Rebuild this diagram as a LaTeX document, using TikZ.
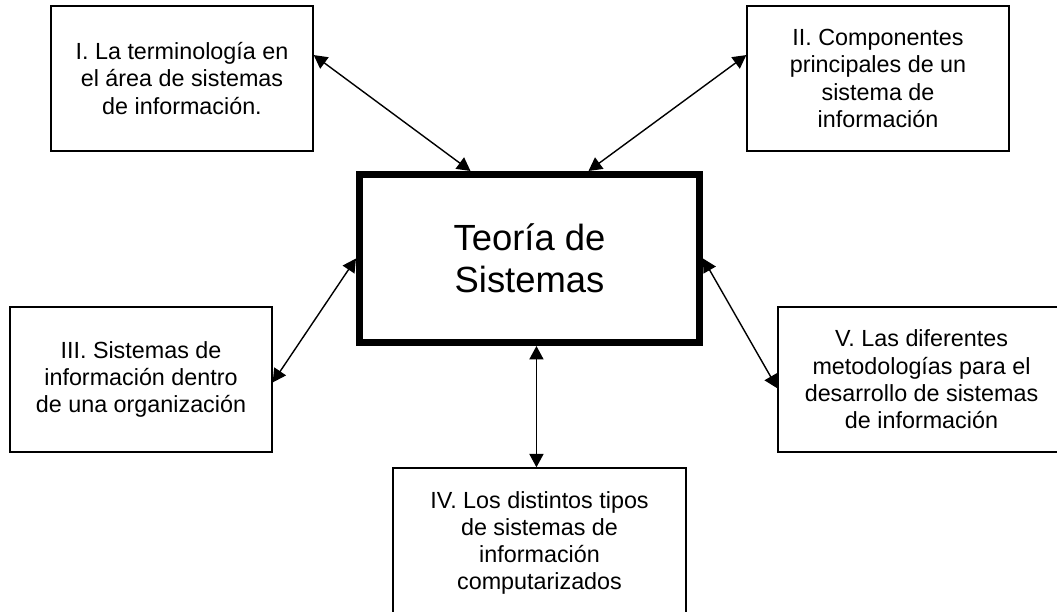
\documentclass[tikz,border=0pt]{standalone}
\usepackage{fontspec}
\setmainfont{Liberation Sans}
\usepackage{tikz}
\usetikzlibrary{arrows.meta, positioning, calc}

\begin{document}
\begin{tikzpicture}[
    topic/.style={draw, line width=1pt, fill=white, inner sep=0pt, minimum width=#1, minimum height=3.625cm, align=center, font=\fontsize{16.6pt}{19.4pt}\selectfont},
    topic/.default=6.55cm,
    core/.style={draw, line width=5pt, fill=white, inner sep=0pt, minimum width=8.5cm, minimum height=4.2cm, align=center, font=\fontsize{25.9pt}{29.8pt}\selectfont},
    link/.style={{Triangle[length=9.5pt,width=10pt]}-{Triangle[length=9.5pt,width=10pt]}, line width=1pt},
]
    \clip (0,0) rectangle (26.425,-15.275);
    \fill[white] (0,0) rectangle (26.425,-15.275);

    \node[core] (teo) at (13.2375,-6.4625) {Teoría de\\Sistemas};

    \node[topic] (b1) at (4.55,-1.9625) {I. La terminología en\\el área de sistemas\\de información.};
    \node[topic] (b2) at (21.95,-1.9625) {II. Componentes\\principales de un\\sistema de\\información};
    \node[topic] (b3) at (3.525,-9.4875) {III. Sistemas de\\información dentro\\de una organización};
    \node[topic=7.325cm, minimum height=3.75cm] (b4) at (13.4875,-13.575) {IV. Los distintos tipos\\de sistemas de\\información\\computarizados};
    \node[topic=7.175cm] (b5) at (23.0375,-9.4875) {V. Las diferentes\\metodologías para el\\desarrollo de sistemas\\de información};

    \draw[link] ($(b1.north east)!0.34!(b1.south east)$) -- ($(teo.north west)!0.33!(teo.north east)$);
    \draw[link] ($(teo.north west)!0.67!(teo.north east)$) -- ($(b2.north west)!0.34!(b2.south west)$);
    \draw[link] ($(b3.north east)!0.52!(b3.south east)$) -- (teo.west);
    \draw[link] (teo.east) -- ($(b5.north west)!0.56!(b5.south west)$);
    \coordinate (iv) at ($(teo.south west)!0.52!(teo.south east)$);
    \draw[link] (iv) -- (iv |- b4.north);
\end{tikzpicture}
\end{document}
